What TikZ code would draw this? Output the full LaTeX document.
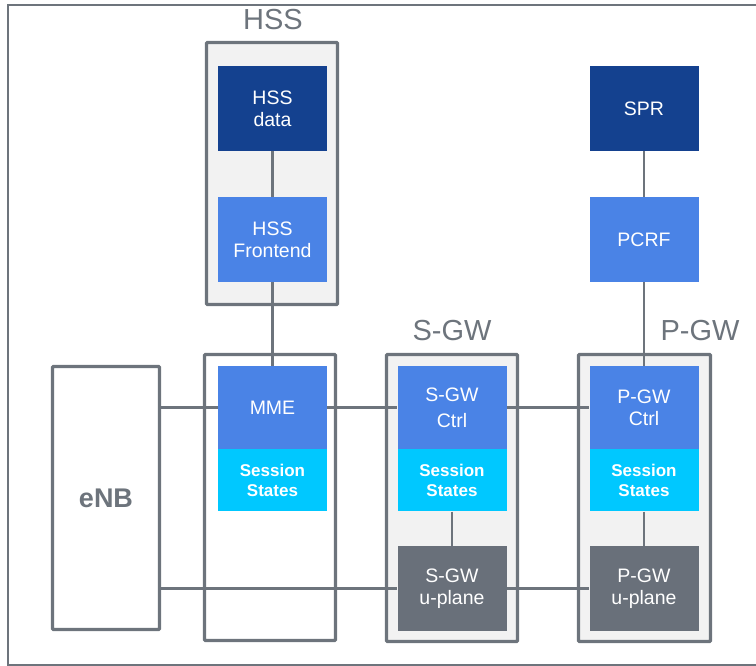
\documentclass[tikz,border=0pt]{standalone}
\usepackage{fontspec}
\setmainfont{Liberation Sans}
\usetikzlibrary{positioning}
\definecolor{darkblue}{HTML}{14418F}
\definecolor{midblue}{HTML}{4A83E6}
\definecolor{stateblue}{HTML}{00C8FF}
\definecolor{planegray}{HTML}{69707A}
\definecolor{edgegray}{HTML}{6D747C}
\definecolor{groupfill}{HTML}{F2F2F2}

\begin{document}
\begin{tikzpicture}[x=1pt, y=-1pt,
darknode/.style={rectangle, fill=darkblue, text=white, minimum width=109pt, minimum height=85pt, inner sep=0pt, align=center, font=\fontsize{19.5}{22}\selectfont},
bluenode/.style={rectangle, fill=midblue, text=white, minimum width=109pt, minimum height=85pt, inner sep=0pt, align=center, font=\fontsize{19.5}{22}\selectfont},
ctrlnode/.style={bluenode, minimum height=83pt},
statenode/.style={rectangle, fill=stateblue, text=white, minimum width=109pt, minimum height=62pt, inner sep=0pt, align=center, font=\fontsize{17}{20}\selectfont\bfseries},
planenode/.style={rectangle, fill=planegray, text=white, minimum width=109pt, minimum height=85pt, inner sep=0pt, align=center, font=\fontsize{19.5}{22}\selectfont},
groupbox/.style={rectangle, draw=edgegray, line width=3.2pt, fill=groupfill, rounded corners=1pt, minimum width=131pt, minimum height=287pt, inner sep=0pt},
grouplabel/.style={text=edgegray, font=\fontsize{29}{31}\selectfont},
link/.style={draw=edgegray, line width=2.5pt},
]
\useasboundingbox (0,0) rectangle (756,666);
\clip (0,0) rectangle (756,666);
\draw[edgegray, line width=2.2pt] (8,5) rectangle (780,665);

%Groups
\node[groupbox, minimum height=262pt]           (hssgroup)   at (272,173.5) {};
\node[groupbox, fill=white, minimum height=286pt] (mmegroup) at (270,497.5) {};
\node[groupbox]                                 (sgwgroup)   at (452,498)   {};
\node[groupbox, minimum width=132pt]            (pgwgroup)   at (644.5,498) {};
\node[groupbox, fill=white, minimum width=107pt, minimum height=263pt] (enb) at (106,498)
      {\fontsize{27}{30}\selectfont\bfseries\textcolor{edgegray}{eNB}};
\node[grouplabel] (hsslabel) at (273,20)  {HSS};
\node[grouplabel] (sgwlabel) at (452,331) {S-GW};
\node[grouplabel] (pgwlabel) at (700,331) {P-GW};

%Nodes
\node[darknode]   (hssdata)   at (272.5,108.5) {HSS\\data};
\node[bluenode]   (hssfront)  at (272.5,239.5) {HSS\\Frontend};
\node[darknode]   (spr)       at (644,108.5)   {SPR};
\node[bluenode]   (pcrf)      at (644,239.5)   {PCRF};
\node[ctrlnode]   (mme)       at (272.5,407.5) {MME};
\node[statenode]  (mmestates) [below=0pt of mme]     {Session\\States};
\node[ctrlnode]   (sgwctrl)   at (452,407.5)   {S-GW\\[4pt]Ctrl};
\node[statenode]  (sgwstates) [below=0pt of sgwctrl] {Session\\States};
\node[ctrlnode]   (pgwctrl)   at (644,407.5)   {P-GW\\Ctrl};
\node[statenode]  (pgwstates) [below=0pt of pgwctrl] {Session\\States};
\node[planenode]  (sgwplane)  at (452,588.5)   {S-GW\\u-plane};
\node[planenode]  (pgwplane)  at (644,588.5)   {P-GW\\u-plane};

%Lines
\draw[link] (hssdata) -- (hssfront);
\draw[link] (hssfront) -- (mme);
\draw[link] (spr) -- (pcrf);
\draw[link] (pcrf) -- (pgwctrl);
\draw[link] (enb.east |- mme.west) -- (mme.west);
\draw[link] (mme) -- (sgwctrl);
\draw[link] (sgwctrl) -- (pgwctrl);
\draw[link] (sgwstates) -- (sgwplane);
\draw[link] (pgwstates) -- (pgwplane);
\draw[link] (enb.east |- sgwplane.west) -- (sgwplane.west);
\draw[link] (sgwplane) -- (pgwplane);
\end{tikzpicture}
\end{document}
